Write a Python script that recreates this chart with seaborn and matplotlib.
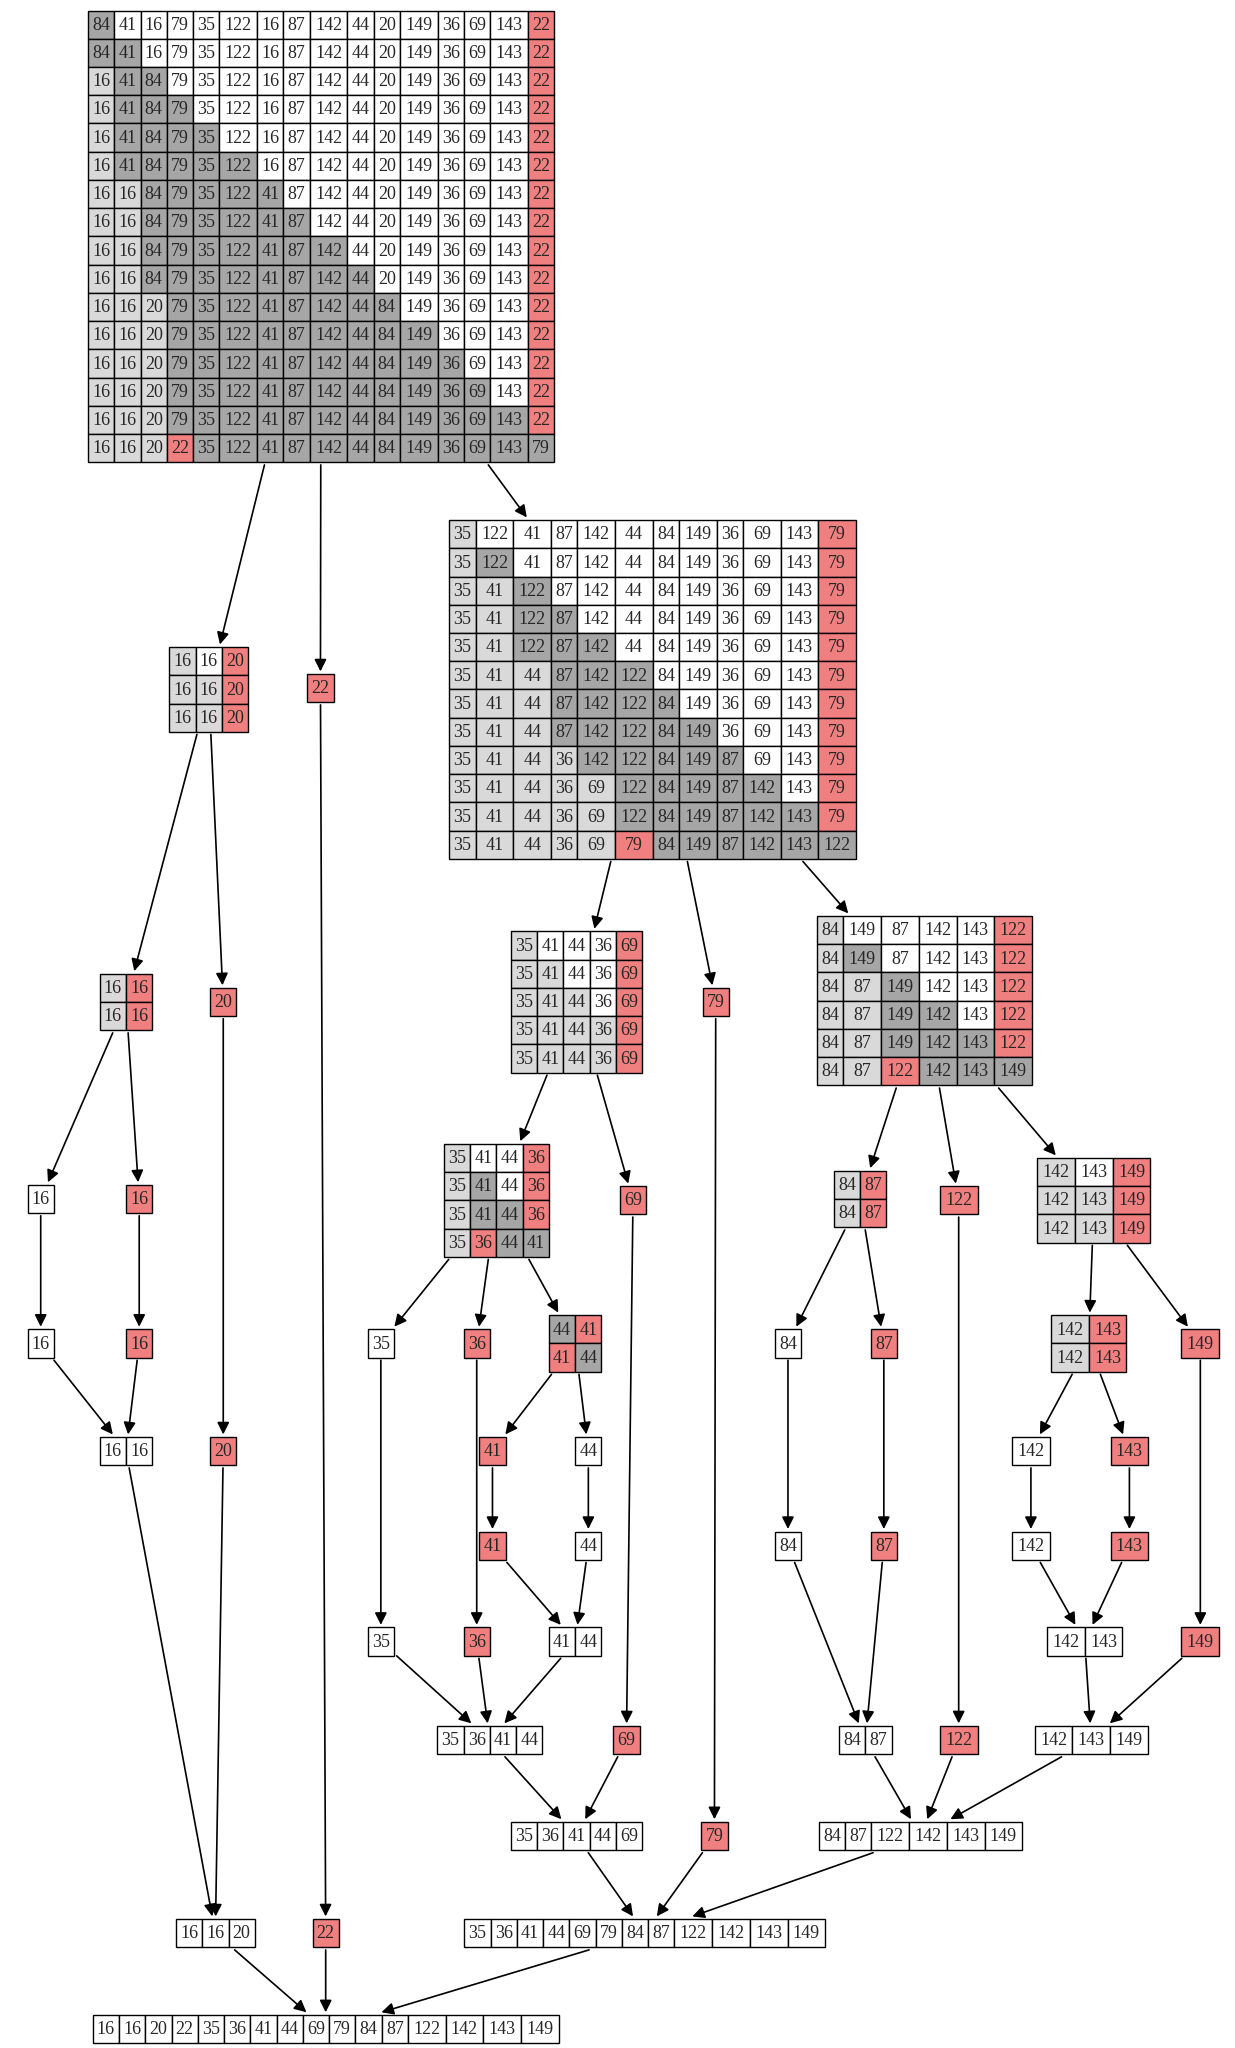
import matplotlib
matplotlib.use("Agg")
import matplotlib.pyplot as plt
from matplotlib.patches import Rectangle
import seaborn as sns

sns.set_theme(style="white")
plt.rcParams['font.family'] = ['Liberation Serif', 'DejaVu Serif']

# input array sorted by the quicksort trace (Lomuto partition, last element pivot)
input_values = [84, 41, 16, 79, 35, 122, 16, 87, 142, 44, 20, 149, 36, 69, 143, 22]

LIGHT = "#d9d9d9"
DARK = "#a6a6a6"
RED = "#f08080"

# node centres (layout, in reference display units)
pos = {
    "": (244.5, 180), "L": (159, 525), "P": (244, 524), "R": (497, 525),
    "LL": (96, 763), "LP": (170, 763), "RL": (439, 763), "RP": (545, 763), "RR": (704, 762),
    "LLL": (31, 913), "LLP": (106, 913), "RLL": (378, 914), "RLP": (482, 914),
    "RRL": (655, 913), "RRP": (730, 914), "RRR": (833, 914),
    "RLLL": (290, 1023), "RLLP": (363, 1023), "RLLR": (438, 1023),
    "RRLL": (600, 1023), "RRLP": (673, 1023), "RRRL": (829, 1023), "RRRP": (914, 1023),
    "RLLRP": (375, 1105), "RLLRR": (448, 1105), "RRRLL": (785, 1105), "RRRLP": (860, 1105),
    "LLL=": (31, 1023), "LLP=": (106, 1023), "LL=": (96, 1105), "LP=": (170, 1105),
    "L=": (164, 1472), "P=": (248, 1472),
    "RLLL=": (290, 1250), "RLLP=": (363, 1250), "RLLRP=": (375, 1177), "RLLRR=": (448, 1177),
    "RLLR=": (438, 1250), "RLL=": (373, 1325), "RLP=": (477, 1325), "RL=": (439, 1398),
    "RP=": (544, 1398), "RRLL=": (600, 1177), "RRLP=": (673, 1177), "RRL=": (659, 1325),
    "RRP=": (730, 1325), "RRRLL=": (785, 1177), "RRRLP=": (860, 1177), "RRRL=": (826, 1250),
    "RRRP=": (914, 1250), "RRR=": (831, 1325), "RR=": (701, 1398), "R=": (491, 1472),
    "=": (248, 1545),
}

CH = 21.5
S = 1235 / 940.4
W, H = 1235 / S, 2048 / S

nodes = {}   # key -> (rows of values, rows of colours)
edges = []


def partition_trace(arr):
    a = list(arr)
    n = len(a)
    pivot = a[-1]
    i = -1
    rows, cols = [], []
    for j in range(n - 1):
        if a[j] <= pivot:
            i += 1
            a[i], a[j] = a[j], a[i]
        c = ["white"] * n
        for k in range(i + 1):
            c[k] = LIGHT
        for k in range(i + 1, j + 1):
            c[k] = DARK
        c[-1] = RED
        rows.append(list(a))
        cols.append(c)
    a[i + 1], a[-1] = a[-1], a[i + 1]
    c = ["white"] * n
    for k in range(i + 1):
        c[k] = LIGHT
    c[i + 1] = RED
    for k in range(i + 2, n):
        c[k] = DARK
    rows.append(list(a))
    cols.append(c)
    return rows, cols, a, i + 1


def build(arr, path, is_pivot=False):
    if len(arr) == 1:
        col = RED if is_pivot else "white"
        nodes[path] = ([arr], [[col]])
        nodes[path + "="] = ([arr], [[col]])
        edges.append((path, path + "="))
        return sorted(arr)
    rows, cols, a, p = partition_trace(arr)
    nodes[path] = (rows, cols)
    out = []
    parts = [("L", a[:p], False), ("P", [a[p]], True), ("R", a[p + 1:], False)]
    for tag, sub, piv in parts:
        if not sub:
            continue
        out += build(sub, path + tag, piv)
        edges.append((path, path + tag))
        edges.append((path + tag + "=", path + "="))
    out = sorted(out)
    nodes[path + "="] = ([out], [["white"] * len(out)])
    return out


build(input_values, "")


def size(key):
    rows = nodes[key][0]
    widths = [20 if max(len(str(r[k])) for r in rows) <= 2 else 28.7 for k in range(len(rows[0]))]
    return widths, sum(widths), CH * len(rows)


fig = plt.figure(figsize=(12.35, 20.48), dpi=100)
ax = fig.add_axes([0, 0, 1, 1])
ax.set_xlim(0, W)
ax.set_ylim(H, 0)
ax.axis("off")

for key, (rows, cols) in nodes.items():
    cx, cy = pos[key]
    widths, tw, th = size(key)
    x0, y0 = cx - tw / 2, cy - th / 2
    for r, (vals, cs) in enumerate(zip(rows, cols)):
        x = x0
        for v, c, w in zip(vals, cs, widths):
            ax.add_patch(Rectangle((x, y0 + r * CH), w, CH, facecolor=c, edgecolor="black", lw=1))
            ax.text(x + w / 2, y0 + r * CH + CH / 2 + 0.5, str(v), ha="center", va="center", fontsize=13)
            x += w


def clip(key, tx, ty):
    cx, cy = pos[key]
    _, tw, th = size(key)
    dx, dy = tx - cx, ty - cy
    t = min((tw / 2 + 2) / abs(dx) if dx else 1e9, (th / 2 + 2) / abs(dy) if dy else 1e9)
    return cx + dx * t, cy + dy * t


for a, b in edges:
    (ax_, ay), (bx, by) = pos[a], pos[b]
    start = clip(a, bx, by)
    end = clip(b, ax_, ay)
    ax.annotate("", xy=end, xytext=start,
                arrowprops=dict(arrowstyle="-|>", color="black", lw=1.2, mutation_scale=18,
                                shrinkA=0, shrinkB=0))

fig.savefig("out.png", dpi=100, facecolor="white")
